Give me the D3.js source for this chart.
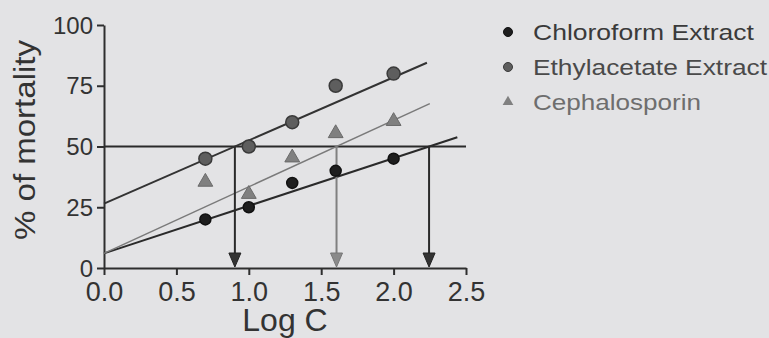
<!DOCTYPE html>
<html lang="en">
  <head>
    <meta charset="utf-8" />
    <title>% of mortality vs Log C</title>
    <script type="text/javascript" src="https://cdn.jsdelivr.net/npm/d3@7"></script>
    <style type="text/css">
      body { margin: 0; background: #e3e3e5; }
      svg { display: block; font-family: "Liberation Sans", Arial, sans-serif; }
    </style>
  </head>

  <body>
    <script type="text/javascript">
      // data
      const logC = [0.7, 1.0, 1.3, 1.6, 2.0];
      const chloroform = [20, 25, 35, 40, 45];
      const ethylacetate = [45, 50, 60, 75, 80];
      const cephalosporin = [35, 30, 45, 55, 60];

      const seriesNames = ["Chloroform Extract", "Ethylacetate Extract", "Cephalosporin"];
      // fitted lines as drawn: intercept, slope, end of line on Log C
      const lineIntercepts = [6, 26.5, 6];
      const lineSlopes = [19.6, 26, 27.4];
      const lineEnds = [2.44, 2.23, 2.25];

      const xTicks = [0, 0.5, 1, 1.5, 2, 2.5];
      const yTicks = [0, 25, 50, 75, 100];
      const refLevel = 50;

      const series = [chloroform, ethylacetate, cephalosporin];
      const markFill = ["#1e1e1e", "#5e5e5e", "#808080"];
      const markStroke = ["#111", "#3a3a3a", "#6a6a6a"];
      const lineColor = ["#2a2a2a", "#333", "#7a7a7a"];
      const textColor = ["#3a3a3a", "#4a4a4a", "#6e6e6e"];

      const W = 769, H = 338;
      const svg = d3.select("body").append("svg")
        .attr("width", W)
        .attr("height", H);

      const x = d3.scaleLinear().domain([0, 2.5]).range([104, 466]);
      const y = d3.scaleLinear().domain([0, 100]).range([268, 25]);

      // axes
      const xAxis = svg.append("g")
        .attr("transform", "translate(0," + y(0) + ")")
        .call(d3.axisBottom(x).tickValues(xTicks).tickFormat(d3.format(".1f")).tickSizeInner(7).tickSizeOuter(0).tickPadding(7));
      const yAxis = svg.append("g")
        .attr("transform", "translate(" + x(0) + ",0)")
        .call(d3.axisLeft(y).tickValues(yTicks).tickSizeInner(7).tickSizeOuter(0).tickPadding(4));

      [xAxis, yAxis].forEach(function (g) {
        g.select(".domain").attr("stroke", "#2e2e2e").attr("stroke-width", 2);
        g.selectAll(".tick line").attr("stroke", "#2e2e2e").attr("stroke-width", 2);
        g.selectAll(".tick text").attr("fill", "#333").attr("font-family", "Liberation Sans, Arial, sans-serif");
      });
      xAxis.selectAll(".tick text").attr("font-size", 27);
      yAxis.selectAll(".tick text").attr("font-size", 24).attr("dy", "0.34em");

      // axis titles
      svg.append("text")
        .attr("x", 285).attr("y", 331)
        .attr("text-anchor", "middle")
        .attr("font-size", 32)
        .attr("fill", "#333")
        .text("Log C");

      svg.append("text")
        .attr("transform", "translate(35,140) rotate(-90)")
        .attr("text-anchor", "middle")
        .attr("font-size", 30)
        .attr("fill", "#333")
        .attr("textLength", 200)
        .attr("lengthAdjust", "spacingAndGlyphs")
        .text("% of mortality");

      // 50% reference line
      svg.append("line")
        .attr("x1", x(0)).attr("x2", x(2.5))
        .attr("y1", y(refLevel)).attr("y2", y(refLevel))
        .attr("stroke", "#2a2a2a").attr("stroke-width", 2);

      // fitted lines
      svg.selectAll("line.fit")
        .data(seriesNames)
        .enter()
        .append("line")
        .attr("class", "fit")
        .attr("x1", x(0))
        .attr("y1", function (d, i) { return y(lineIntercepts[i]); })
        .attr("x2", function (d, i) { return x(lineEnds[i]); })
        .attr("y2", function (d, i) { return y(lineIntercepts[i] + lineSlopes[i] * lineEnds[i]); })
        .attr("stroke", function (d, i) { return lineColor[i]; })
        .attr("stroke-width", function (d, i) { return i === 2 ? 1.5 : 2; });

      // arrows down from where each line crosses 50%
      const arrows = svg.selectAll("g.arrow")
        .data(seriesNames)
        .enter()
        .append("g")
        .attr("class", "arrow");
      arrows.append("line")
        .attr("x1", function (d, i) { return x((refLevel - lineIntercepts[i]) / lineSlopes[i]); })
        .attr("x2", function (d, i) { return x((refLevel - lineIntercepts[i]) / lineSlopes[i]); })
        .attr("y1", y(refLevel))
        .attr("y2", y(0) - 10)
        .attr("stroke", function (d, i) { return i === 2 ? "#808080" : "#2a2a2a"; })
        .attr("stroke-width", 2);
      arrows.append("path")
        .attr("d", function (d, i) {
          const ax = x((refLevel - lineIntercepts[i]) / lineSlopes[i]);
          const ay = y(0) - 1;
          return "M" + ax + "," + ay + "L" + (ax - 6) + "," + (ay - 14) + "L" + (ax + 6) + "," + (ay - 14) + "Z";
        })
        .attr("fill", function (d, i) { return i === 2 ? "#8a8a8a" : "#333"; })
        .attr("stroke", function (d, i) { return i === 2 ? "#777" : "#222"; })
        .attr("stroke-width", 1);

      // points
      series.forEach(function (vals, s) {
        const pts = vals.map(function (v, k) { return { lx: logC[k], v: v }; });
        if (s === 2) {
          svg.selectAll("path.tri")
            .data(pts)
            .enter()
            .append("path")
            .attr("class", "tri")
            .attr("d", d3.symbol().type(d3.symbolTriangle).size(95))
            .attr("transform", function (d) { return "translate(" + x(d.lx) + "," + (y(d.v) - 1) + ")"; })
            .attr("fill", markFill[s])
            .attr("stroke", markStroke[s])
            .attr("stroke-width", 1);
        } else {
          svg.selectAll("circle.s" + s)
            .data(pts)
            .enter()
            .append("circle")
            .attr("class", "s" + s)
            .attr("cx", function (d) { return x(d.lx); })
            .attr("cy", function (d) { return y(d.v); })
            .attr("r", s === 0 ? 5.5 : 6.5)
            .attr("fill", markFill[s])
            .attr("stroke", markStroke[s])
            .attr("stroke-width", 1.5);
        }
      });

      // legend
      const legendY = [32, 67, 102];
      const legendLen = [221, 234, 168];
      const legend = svg.selectAll("g.legend")
        .data(seriesNames)
        .enter()
        .append("g")
        .attr("class", "legend")
        .attr("transform", function (d, i) { return "translate(508," + legendY[i] + ")"; });
      legend.each(function (d, i) {
        const g = d3.select(this);
        if (i === 2) {
          g.append("path")
            .attr("d", d3.symbol().type(d3.symbolTriangle).size(50))
            .attr("fill", markFill[i]);
        } else {
          g.append("circle")
            .attr("r", 4.5)
            .attr("fill", markFill[i])
            .attr("stroke", markStroke[i]);
        }
      });
      legend.append("text")
        .attr("x", 25)
        .attr("dy", "0.36em")
        .attr("font-size", 22)
        .attr("fill", function (d, i) { return textColor[i]; })
        .attr("textLength", function (d, i) { return legendLen[i]; })
        .attr("lengthAdjust", "spacingAndGlyphs")
        .text(function (d) { return d; });
    </script>
  </body>
</html>
